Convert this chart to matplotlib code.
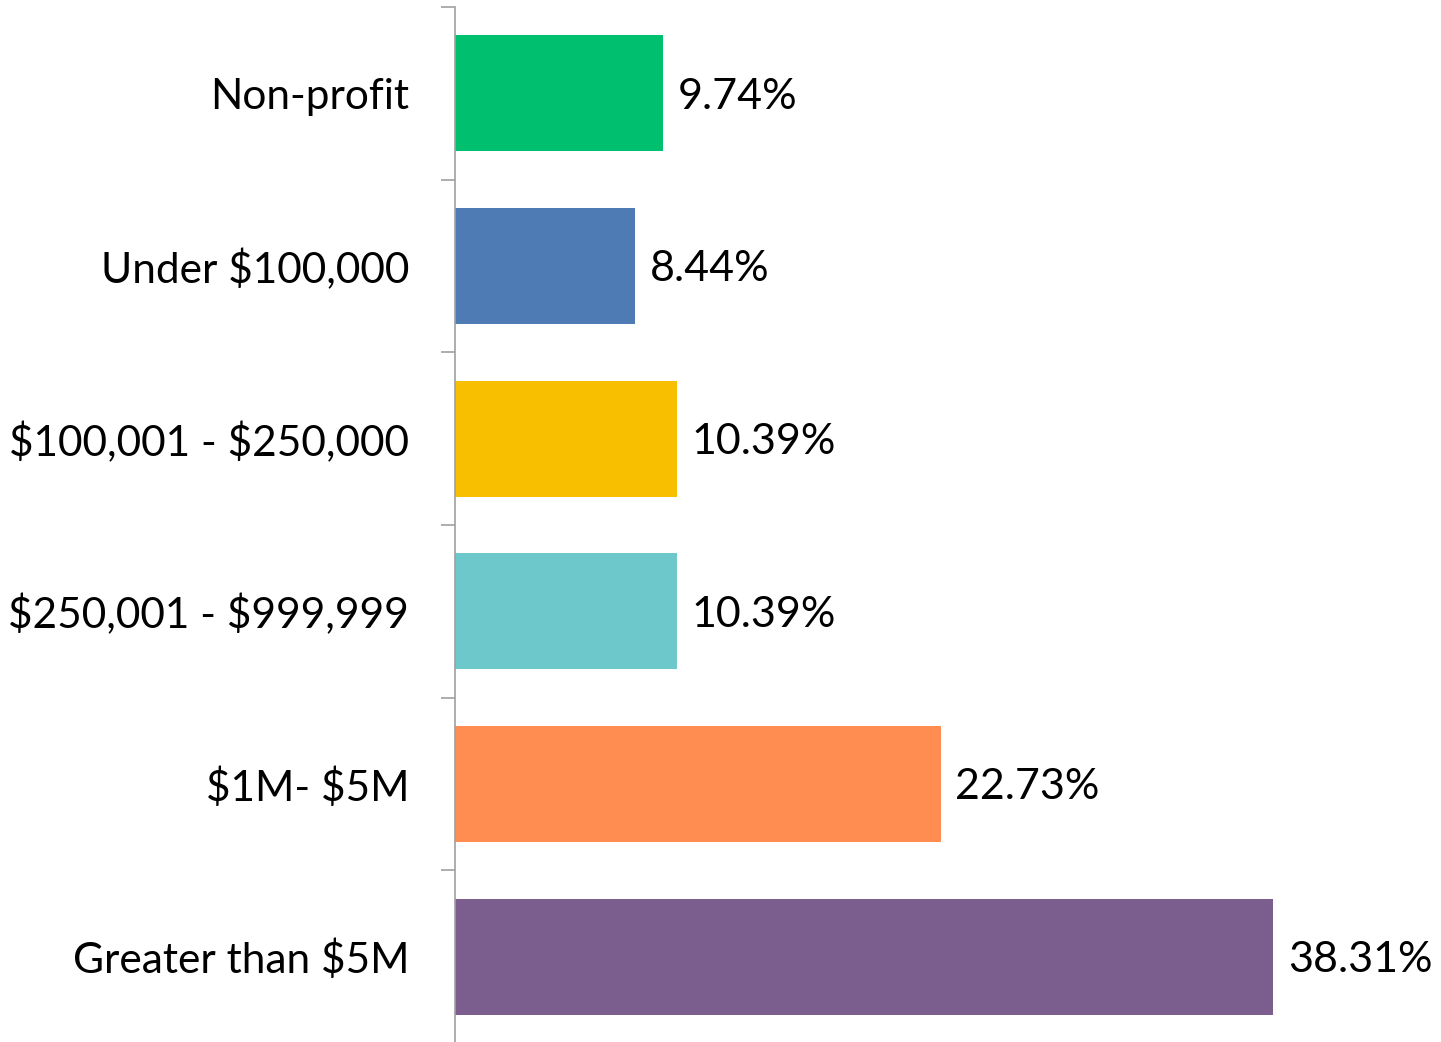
import matplotlib.pyplot as plt
from matplotlib.ticker import FixedLocator

plt.rcParams["font.family"] = ["Lato", "DejaVu Sans"]
plt.rcParams["text.parse_math"] = False

categories = ["Non-profit", "Under $100,000", "$100,001 - $250,000",
              "$250,001 - $999,999", "$1M- $5M", "Greater than $5M"]
values = [9.74, 8.44, 10.39, 10.39, 22.73, 38.31]
labels = ["9.74%", "8.44%", "10.39%", "10.39%", "22.73%", "38.31%"]
colors = ["#00BF6F", "#4F7BB4", "#F8BE00", "#6DC8CC", "#FF8C50", "#7C5E8E"]

fig = plt.figure(figsize=(14.41, 10.42), dpi=100)
ax = fig.add_axes([455 / 1441, -1 / 1042, 1 - 455 / 1441, 1036 / 1042])

y = list(range(len(categories)))
ax.barh(y, values, height=0.67, color=colors, zorder=2)
ax.set_ylim(len(categories) - 0.5, -0.5)
ax.set_xlim(0, (1441 - 455) / 21.36)

for yi, v, lab in zip(y, values, labels):
    ax.text(v + 0.7, yi + 0.02, lab, va="center", ha="left", fontsize=31, color="black")

ax.set_yticks(y)
ax.set_yticklabels(categories, fontsize=30.5)
ax.tick_params(axis="y", which="major", length=0, pad=33)
ax.yaxis.set_minor_locator(FixedLocator([i - 0.5 for i in range(len(categories) + 1)]))
ax.tick_params(axis="y", which="minor", length=10, width=1.2, color="#A0A0A0")
ax.set_xticks([])

for s in ["top", "right", "bottom"]:
    ax.spines[s].set_visible(False)
ax.spines["left"].set_color("#A0A0A0")
ax.spines["left"].set_linewidth(1.2)

fig.savefig("out.png", dpi=100)
